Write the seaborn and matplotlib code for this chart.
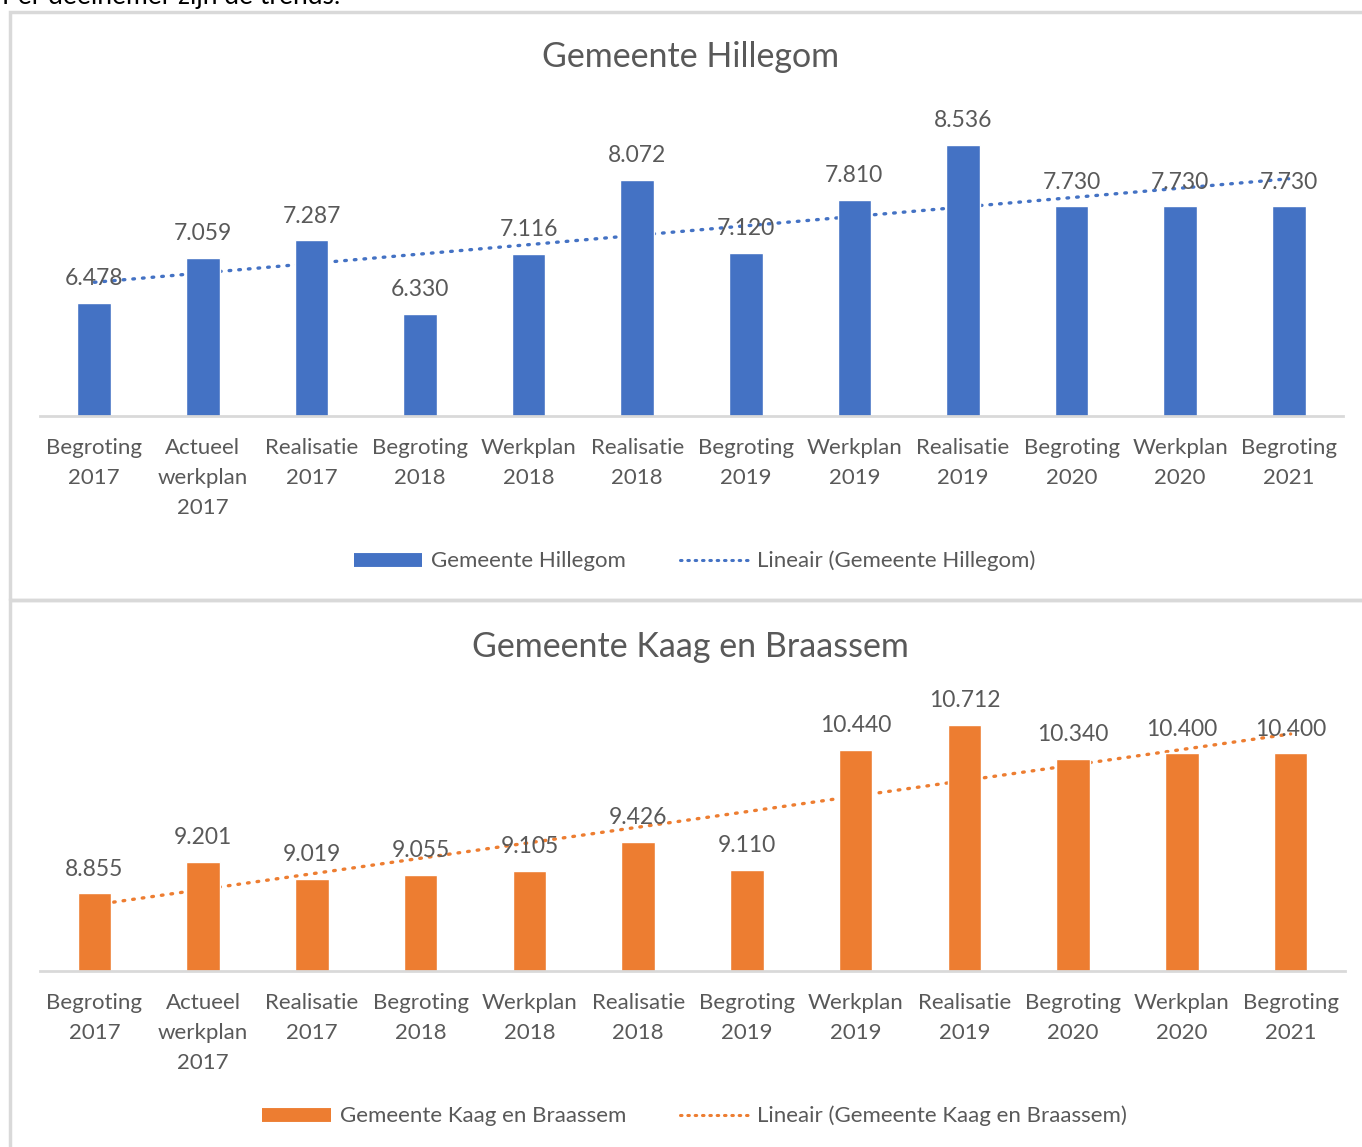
import numpy as np
import pandas as pd
import matplotlib
matplotlib.use("Agg")
import matplotlib.pyplot as plt
from matplotlib.lines import Line2D
from matplotlib.patches import Rectangle
import seaborn as sns

categories = ["Begroting\n2017", "Actueel\nwerkplan\n2017", "Realisatie\n2017",
              "Begroting\n2018", "Werkplan\n2018", "Realisatie\n2018",
              "Begroting\n2019", "Werkplan\n2019", "Realisatie\n2019",
              "Begroting\n2020", "Werkplan\n2020", "Begroting\n2021"]
hillegom = [6478, 7059, 7287, 6330, 7116, 8072, 7120, 7810, 8536, 7730, 7730, 7730]
kaag = [8855, 9201, 9019, 9055, 9105, 9426, 9110, 10440, 10712, 10340, 10400, 10400]

title_top = "Gemeente Hillegom"
title_bot = "Gemeente Kaag en Braassem"
intro = "Per deelnemer zijn de trends:"

BLUE = "#4472C4"
ORANGE = "#ED7D31"
TXT = "#595959"
GRID = "#D9D9D9"

sns.set_theme(style="white")
plt.rcParams["font.family"] = ["Lato", "DejaVu Sans"]

W, H = 1362, 1147
fig = plt.figure(figsize=(W / 100, H / 100), dpi=100)

def fx(px):
    return px / W

def fy(py):
    return 1 - py / H

# panel borders
for (y0, y1) in [(12, 600), (600, 1150)]:
    fig.patches.append(Rectangle((fx(10), fy(y1)), fx(1400), fy(y0) - fy(y1),
                                 transform=fig.transFigure, fill=False,
                                 edgecolor=GRID, lw=2.5, zorder=0))

fig.text(fx(2), fy(4), intro, fontsize=19, color="black", va="baseline", ha="left")

def panel(ax, values, color, ylim, title, title_y, legend_y, legend_name):
    df = pd.DataFrame({"cat": categories, "val": values})
    sns.barplot(data=df, x="cat", y="val", color=color, width=0.31,
                saturation=1, ax=ax, zorder=2)
    x = np.arange(len(values))
    sns.regplot(x=x, y=np.array(values, dtype=float), ax=ax, scatter=False, ci=None,
                line_kws=dict(color=color, lw=2.4, linestyle=(0, (0.5, 2.4)),
                              dash_capstyle="round", zorder=1))
    ax.set_ylim(*ylim)
    ax.set_xlim(-0.5, len(values) - 0.5)
    ax.set_xlabel("")
    ax.set_ylabel("")
    ax.set_yticks([])
    ax.set_xticks(x)
    ax.set_xticklabels(categories, fontsize=16, color=TXT, linespacing=1.62)
    ax.tick_params(axis="x", length=0, pad=16)
    for s in ["top", "left", "right"]:
        ax.spines[s].set_visible(False)
    ax.spines["bottom"].set_color(GRID)
    ax.spines["bottom"].set_linewidth(2)
    for xi, v in zip(x, values):
        ax.annotate(f"{v:,}".replace(",", "."), (xi, v), xytext=(0, 10),
                    textcoords="offset points", ha="center", va="bottom",
                    fontsize=16.5, color=TXT, zorder=4)
    fig.text(0.507, title_y, title, ha="center", va="center", fontsize=24.5,
             color=TXT)
    handles = [Line2D([], [], color=color, lw=10, solid_capstyle="butt"),
               Line2D([], [], color=color, lw=2.2, linestyle=(0, (0.5, 1.9)),
                      dash_capstyle="round")]
    fig.legend(handles, [legend_name, f"Lineair ({legend_name})"],
               loc="center", bbox_to_anchor=(0.51, legend_y), ncol=2,
               frameon=False, fontsize=16, labelcolor=TXT, handlelength=3.1,
               columnspacing=2.4, handletextpad=0.4)

ax1 = fig.add_axes([fx(40), fy(416), fx(1303), fy(109) - fy(416)])
panel(ax1, hillegom, BLUE, (5000, 9000), title_top, fy(57), fy(561), title_top)

ax2 = fig.add_axes([fx(40), fy(971), fx(1305), fy(699) - fy(971)])
panel(ax2, kaag, ORANGE, (8000, 11000), title_bot, fy(647), fy(1116), title_bot)

fig.savefig("out.png", dpi=100)
